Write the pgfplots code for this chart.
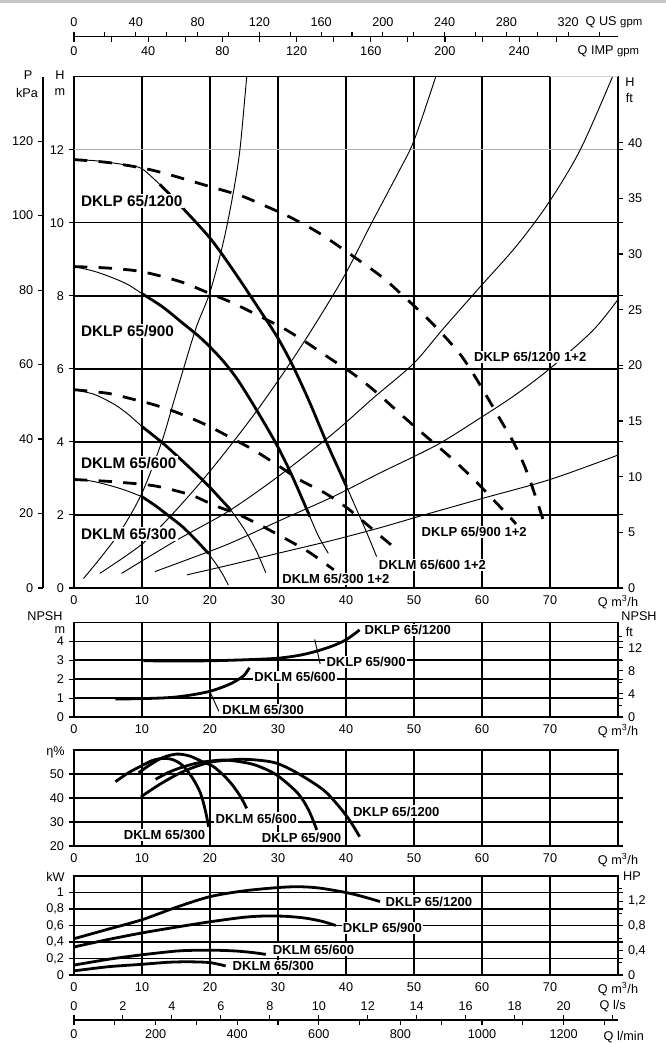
\documentclass[border=0pt]{standalone}
\usepackage{fontspec}
\setmainfont{Liberation Sans}
\usepackage{pgfplots}
\pgfplotsset{compat=1.18}

\newcommand{\tf}{\fontsize{9.5}{11}\selectfont}
\newcommand{\lbA}{\fontsize{11.5}{13}\selectfont\bfseries}
\newcommand{\lbB}{\fontsize{9.8}{12}\selectfont\bfseries}

\tikzset{lab/.style={fill=white, inner sep=1pt, anchor=west}}
\pgfplotsset{
  chart/.style={
    scale only axis, width=408pt, xmin=0, xmax=80,
    xtick={0,10,...,70}, extra x ticks={80},
    extra x tick labels={Q m\textsuperscript{3}/h},
    extra x tick style={grid=none},
    grid=major, grid style={black, line width=1.1pt},
    axis line style={line width=1.1pt},
    x tick style={draw=none},
    y tick style={black, line width=0.8pt},
    tick align=outside, major tick length=4pt,
    tick label style={font=\tf},
    x tick label style={yshift=2pt},
    /pgf/number format/assume math mode=true,
    clip mode=individual,
  },
  side/.style={
    scale only axis, width=408pt, xmin=0, xmax=80, hide x axis,
    axis y line*=right, tick align=outside, major tick length=4pt,
    minor tick length=3pt,
    y axis line style={line width=1.1pt},
    y tick style={black, line width=0.8pt},
    tick label style={font=\tf},
    /pgf/number format/assume math mode=true,
  },
  qaxis/.style={
    scale only axis, width=408pt, height=5pt, ymin=0, ymax=1, hide y axis,
    tick align=outside, major tick length=3.75pt, minor tick length=3.75pt,
    x axis line style={line width=1pt},
    x tick style={black, line width=0.8pt},
    tick label style={font=\tf},
    /pgf/number format/assume math mode=true,
    /pgf/number format/1000 sep={},
  },
  thn/.style={black, line width=0.7pt, smooth},
  thk/.style={black, line width=2.1pt, smooth},
  dsh/.style={black, line width=2.1pt, smooth, dash pattern=on 10pt off 8.5pt},
}

\begin{document}
\begin{tikzpicture}
\path[use as bounding box] (0,0) rectangle (499.5pt,-783pt);
\draw[gray!45, line width=2pt] (0,-1pt) -- (499.5pt,-1pt);

% ---------- flow scales on top
\begin{axis}[qaxis, at={(55.5pt,-27.5pt)}, anchor=north west,
  xmin=0, xmax=352.24, axis x line*=top,
  xtick={0,40,...,320}, minor xtick={20,60,...,340}]
\end{axis}
\begin{axis}[qaxis, at={(55.5pt,-27.5pt)}, anchor=south west,
  xmin=0, xmax=293.29, axis x line*=bottom,
  xtick={0,40,...,240}, minor xtick={20,60,...,280}]
\end{axis}
\node[anchor=base west, font=\tf] at (435.75pt,-19.5pt) {Q US {\fontsize{8.5}{10}\selectfont gpm}};
\node[anchor=base west, font=\tf] at (429.75pt,-40.9pt) {Q IMP {\fontsize{8.5}{10}\selectfont gpm}};

% ---------- head chart
\begin{axis}[chart, at={(55.5pt,-441pt)}, anchor=south west, height=383.5pt,
  ymin=0, ymax=14, ytick={0,2,...,10}, extra y ticks={12},
  extra y tick style={grid style={gray!60, line width=1.1pt}}]
% system curves
\addplot[thn] coordinates {(1.4,0.26) (4,0.85) (7,1.6) (10,2.6) (12.9,4.0) (14.5,5.0) (16.1,6.0) (18,7.15) (20,8.1) (22,9.5) (23.4,10.8) (24.4,12.0) (25.4,14.0) (25.6,14.4)};
\addplot[thn] coordinates {(3.8,0.4) (10,1.2) (14.6,2.05) (20,3.2) (26.6,4.78) (33,6.5) (39.4,8.43) (43.7,9.97) (47.9,11.45) (50,12.25) (53.2,14) (53.6,14.3)};
\addplot[thn] coordinates {(7,0.4) (15,1.3) (22.7,2.1) (30,3.05) (38.1,4.23) (44,5.2) (49.9,6.14) (54.3,7.1) (59.7,8.24) (65,9.35) (69.7,10.52) (74.4,11.98) (79.2,14) (79.5,14.2)};
\addplot[thn] coordinates {(11.9,0.45) (17,0.8) (22.9,1.22) (30.3,1.85) (38.1,2.5) (45,3.15) (53.3,3.91) (59.7,4.65) (65,5.3) (70,6.01) (76.3,7.05) (80,7.9)};
\addplot[thn] coordinates {(16.6,0.36) (22.9,0.63) (30,0.95) (38.1,1.31) (45,1.65) (51.1,1.98) (60,2.45) (70,2.97) (80,3.64)};
% single pump
\addplot[thn] coordinates {(0,2.97) (2.5,2.93) (5,2.82) (7.5,2.68) (10,2.5)};
\addplot[thk] coordinates {(10,2.5) (12,2.25) (13.9,1.98) (16,1.67) (18,1.3) (19.75,0.95)};
\addplot[thn] coordinates {(19.75,0.95) (21,0.63) (22,0.33) (22.7,0.08)};
\addplot[thn] coordinates {(0,5.43) (3,5.3) (6,5.02) (8,4.75) (10,4.42)};
\addplot[thk] coordinates {(10,4.42) (13.1,3.96) (16,3.47) (19.5,2.85) (21.5,2.45) (23,2.15)};
\addplot[thn] coordinates {(23,2.15) (25,1.62) (26.8,1.02) (28.2,0.42)};
\addplot[thn] coordinates {(0,8.8) (3,8.67) (6,8.47) (8,8.3) (10,8.06)};
\addplot[thk] coordinates {(10,8.06) (13,7.7) (16,7.25) (18.3,6.9) (20,6.6) (22,6.2) (24,5.72) (26.6,4.95) (29.7,3.96) (32,3.1) (34.7,1.95)};
\addplot[thn] coordinates {(34.7,1.95) (36,1.4) (37.4,0.95)};
\addplot[thn] coordinates {(0,11.73) (3,11.7) (6,11.63) (8,11.57) (10,11.48) (12.6,11.05)};
\addplot[thk] coordinates {(12.6,11.05) (14.5,10.7) (16,10.4) (18,10.0) (20,9.58) (22,9.08) (24.4,8.43) (27,7.7) (29.8,6.9) (32,6.15) (34.5,5.15) (37.2,3.96) (40.1,2.77)};
\addplot[thn] coordinates {(40.1,2.77) (41.8,2.05) (43.2,1.45) (44.5,0.86)};
% two pumps
\addplot[dsh] coordinates {(0,2.97) (5,2.92) (10,2.84) (12.6,2.77) (17,2.56) (19.5,2.36) (21.5,2.2) (24,2.03) (27.6,1.7) (31,1.36) (34.5,0.99) (37.6,0.58) (38.2,0.5)};
\addplot[dsh] coordinates {(0,5.43) (5,5.33) (8,5.2) (11.9,5.01) (15.5,4.78) (19.5,4.46) (23,4.12) (26.4,3.78) (29.8,3.38) (33.2,2.96) (36.9,2.6) (40.1,2.2) (43,1.75) (46.5,1.2) (47.5,1.05)};
\addplot[dsh] coordinates {(0,8.8) (5,8.76) (10,8.66) (15.6,8.39) (19.5,8.1) (23.4,7.8) (27.2,7.45) (30.8,7.11) (34.2,6.72) (37.6,6.29) (41,5.87) (44.2,5.4) (47.2,4.9) (50.1,4.42) (53.3,3.91) (56.2,3.44) (59.2,2.9) (61.9,2.37) (64.3,1.9) (65,1.75)};
\addplot[dsh] coordinates {(0,11.73) (5,11.65) (10,11.5) (13.6,11.34) (20,10.99) (24.4,10.75) (27.4,10.52) (31.8,10.15) (36.2,9.7) (41.3,9.05) (45.4,8.5) (48.4,8.0) (51.3,7.5) (53.8,7.03) (56.7,6.42) (58.7,5.87) (60.6,5.28) (62.6,4.64) (64.6,4.0) (66.3,3.32) (67.7,2.6) (69,1.86) (69.3,1.65)};
\draw[gray!35, line width=1.1pt] (axis cs:70,14) -- (axis cs:80,14);
\node[lab, font=\lbA] at (axis cs:0.8,10.6) {DKLP 65/1200};
\node[lab, font=\lbA] at (axis cs:0.8,7.04) {DKLP 65/900};
\node[lab, font=\lbA] at (axis cs:0.8,3.41) {DKLM 65/600};
\node[lab, font=\lbA] at (axis cs:0.8,1.48) {DKLM 65/300};
\node[lab, font=\lbB] at (axis cs:58.6,6.32) {DKLP 65/1200 1+2};
\node[lab, font=\lbB] at (axis cs:50.9,1.54) {DKLP 65/900 1+2};
\node[lab, font=\lbB] at (axis cs:44.6,0.63) {DKLM 65/600 1+2};
\node[lab, font=\lbB] at (axis cs:30.4,0.24) {DKLM 65/300 1+2};
\end{axis}
\begin{axis}[side, at={(55.5pt,-441pt)}, anchor=south west, height=383.5pt,
  ymin=0, ymax=45.93, ytick={0,5,...,40}]
\end{axis}
\begin{axis}[side, at={(32.25pt,-441pt)}, anchor=south west, height=383.5pt,
  width=10pt, xmax=1, axis y line*=left, major tick length=3.75pt,
  ymin=0, ymax=137.29, ytick={0,20,...,120}]
\end{axis}
\node[font=\tf] at (21pt,-56.25pt) {P};
\node[font=\tf] at (20.25pt,-69.75pt) {kPa};
\node[font=\tf] at (45pt,-56.25pt) {H};
\node[font=\tf] at (45pt,-69pt) {m};
\node[font=\tf] at (472.5pt,-61.5pt) {H};
\node[font=\tf] at (472pt,-73.5pt) {ft};

% ---------- NPSH
\begin{axis}[chart, at={(55.5pt,-537.75pt)}, anchor=south west, height=71pt,
  ymin=0, ymax=5, ytick={0,1,...,4}]
\addplot[thk] coordinates {(10.2,2.97) (15,2.96) (20,2.97) (25,3.02) (29.8,3.1) (33,3.25) (35.4,3.45) (38,3.75) (40.1,4.1) (42,4.6)};
\addplot[thk] coordinates {(6.1,0.95) (10,0.97) (14.2,1.03) (17,1.15) (19.8,1.34) (22,1.6) (23.6,1.86) (25,2.2) (25.8,2.6)};
\addplot[thn] coordinates {(20.1,1.25) (21.3,0.3)};
\addplot[thn] coordinates {(35.4,4.1) (36.2,2.8)};
\node[lab, font=\lbB] at (axis cs:42.5,4.59) {DKLP 65/1200};
\node[lab, font=\lbB] at (axis cs:36.9,2.90) {DKLP 65/900};
\node[lab, font=\lbB] at (axis cs:26.3,2.11) {DKLM 65/600};
\node[lab, font=\lbB] at (axis cs:21.6,0.37) {DKLM 65/300};
\end{axis}
\begin{axis}[side, at={(55.5pt,-537.75pt)}, anchor=south west, height=71pt,
  ymin=0, ymax=16.404, ytick={0,4,8,12}, minor ytick={2,6,10,14}]
\end{axis}
\node[font=\tf] at (33.75pt,-462pt) {NPSH};
\node[font=\tf] at (45pt,-472.5pt) {m};
\node[font=\tf] at (479.25pt,-462pt) {NPSH};
\node[font=\tf] at (472pt,-474pt) {ft};

% ---------- efficiency
\begin{axis}[chart, at={(55.5pt,-634.5pt)}, anchor=south west, height=72pt,
  ymin=20, ymax=60, ytick={20,30,40,50}]
\addplot[thk] coordinates {(6.1,46.8) (8,50.5) (9.85,53.3) (11.5,55.6) (13,56.5) (14.5,56) (16,53.5) (17.5,48) (18.6,42) (19.3,35) (19.8,28)};
\addplot[thk] coordinates {(9.5,50.5) (11,53.5) (13,56.8) (15.1,58.3) (17,57.5) (19,55) (20.4,53.3) (22,49.5) (23.3,45.4) (24.5,40.5) (25.4,35.7)};
\addplot[thk] coordinates {(12,47.8) (14,50.8) (16.1,53) (18.5,54.8) (21.7,55.8) (24,55.3) (26.7,53.7) (29.8,49.6) (32.9,42) (34.5,35) (35.7,26.7)};
\addplot[thk] coordinates {(9.85,40.5) (12.5,45.5) (15.5,50.3) (18,53.2) (20.4,55.1) (24.2,56.1) (27,55.8) (29.8,54.5) (32.9,50.3) (36.7,43.3) (39.2,35.7) (40.7,30) (42,23.9)};
\node[lab, font=\lbB] at (axis cs:7.1,24.6) {DKLM 65/300};
\node[lab, font=\lbB] at (axis cs:20.6,31.5) {DKLM 65/600};
\node[lab, font=\lbB] at (axis cs:27.4,23.2) {DKLP 65/900};
\node[lab, font=\lbB] at (axis cs:40.8,34.3) {DKLP 65/1200};
\end{axis}
\node[font=\tf] at (41.6pt,-564.4pt) {η\%};

% ---------- power
\begin{axis}[chart, at={(55.5pt,-731.25pt)}, anchor=south west, height=74.25pt,
  ymin=0, ymax=1.2, ytick={0,0.2,...,1.0},
  yticklabels={0,{0,2},{0,4},{0,6},{0,8},1}]
\addplot[thk] coordinates {(0,0.44) (5,0.555) (10,0.67) (15,0.82) (20,0.95) (25,1.02) (30,1.06) (33,1.07) (36,1.055) (40,1.0) (42.5,0.95) (45,0.89)};
\addplot[thk] coordinates {(0,0.34) (5,0.43) (10,0.51) (15,0.58) (20,0.645) (25,0.7) (28,0.715) (31,0.712) (34,0.69) (36.5,0.65) (38.5,0.6)};
\addplot[thk] coordinates {(0,0.12) (5,0.19) (10,0.245) (15,0.29) (18,0.3) (21,0.3) (24,0.29) (26.5,0.27) (28.2,0.25)};
\addplot[thk] coordinates {(0,0.05) (5,0.1) (10,0.13) (14,0.155) (17,0.16) (20,0.15) (22.3,0.11)};
\node[lab, font=\lbB] at (axis cs:45.6,0.889) {DKLP 65/1200};
\node[lab, font=\lbB] at (axis cs:39.3,0.57) {DKLP 65/900};
\node[lab, font=\lbB] at (axis cs:29,0.31) {DKLM 65/600};
\node[lab, font=\lbB] at (axis cs:23.1,0.11) {DKLM 65/300};
\end{axis}
\begin{axis}[side, at={(55.5pt,-731.25pt)}, anchor=south west, height=74.25pt,
  ymin=0, ymax=1.6092, ytick={0,0.4,0.8,1.2}, minor ytick={0.2,0.6,1.0,1.4},
  yticklabels={0,{0,4},{0,8},{1,2}}]
\end{axis}
\node[font=\tf] at (41.6pt,-657.4pt) {kW};
\node[font=\tf] at (474pt,-657.4pt) {HP};

% ---------- flow scales at bottom
\begin{axis}[qaxis, at={(55.5pt,-765pt)}, anchor=north west,
  xmin=0, xmax=22.222, axis x line*=top,
  xtick={0,2,...,20}, minor xtick={22}]
\end{axis}
\begin{axis}[qaxis, at={(55.5pt,-765pt)}, anchor=south west,
  xmin=0, xmax=1333.33, axis x line*=bottom,
  xtick={0,200,...,1200}, minor xtick={100,300,...,1300}]
\end{axis}
\node[anchor=base west, font=\tf] at (446.25pt,-757.1pt) {Q l/s};
\node[anchor=base west, font=\tf] at (449.25pt,-780.4pt) {Q l/min};
\end{tikzpicture}
\end{document}
